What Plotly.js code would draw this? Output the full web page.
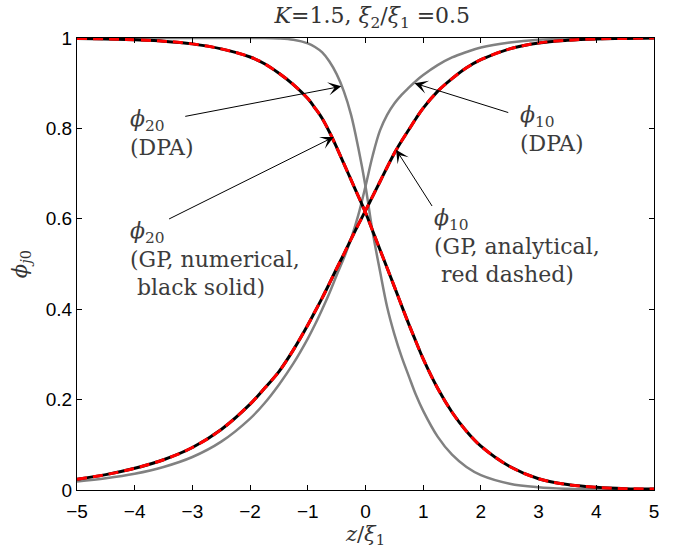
<!DOCTYPE html>
<html>
<head>
<meta charset="utf-8">
<script src="https://cdn.plot.ly/plotly-3.0.1.min.js"></script>
<style>
  html, body { margin: 0; padding: 0; background: #fff; }
  #chart { width: 677px; height: 550px; }
</style>
</head>
<body>
<div id="chart"></div>
<script>
// Position along the interface, in units of xi_1
const z = [-5, -4.5, -4, -3.5, -3, -2.5, -2, -1.75, -1.5, -1.25, -1, -0.875, -0.75, -0.625,
           -0.5, -0.375, -0.25, -0.125, 0, 0.125, 0.25, 0.375, 0.5, 0.625, 0.75, 0.875,
           1, 1.25, 1.5, 1.75, 2, 2.5, 3, 3.5, 4, 4.5, 5];

// Gross-Pitaevskii order parameters (numerical and analytical coincide)
const phi10GP = [0.024, 0.034, 0.048, 0.067, 0.094, 0.134, 0.19, 0.225, 0.262, 0.31, 0.365,
                 0.395, 0.425, 0.457, 0.49, 0.522, 0.555, 0.587, 0.618, 0.65, 0.682, 0.714,
                 0.745, 0.772, 0.797, 0.822, 0.845, 0.882, 0.91, 0.934, 0.952, 0.976, 0.989,
                 0.995, 0.998, 0.999, 1.0];
const phi20GP = [0.999, 0.998, 0.996, 0.993, 0.987, 0.976, 0.958, 0.943, 0.922, 0.897, 0.866,
                 0.845, 0.822, 0.792, 0.758, 0.722, 0.686, 0.65, 0.614, 0.573, 0.532, 0.491,
                 0.45, 0.408, 0.367, 0.328, 0.29, 0.225, 0.172, 0.13, 0.097, 0.052, 0.025,
                 0.012, 0.006, 0.003, 0.002];

// Double-parabola approximation
const phi10DPA = [0.019, 0.026, 0.036, 0.051, 0.073, 0.107, 0.158, 0.192, 0.233, 0.28, 0.335,
                  0.366, 0.4, 0.436, 0.475, 0.513, 0.556, 0.608, 0.672, 0.74, 0.795, 0.83,
                  0.855, 0.874, 0.89, 0.905, 0.918, 0.94, 0.957, 0.969, 0.979, 0.99, 0.996,
                  0.998, 0.999, 1.0, 1.0];
const phi20DPA = [1.0, 1.0, 1.0, 1.0, 1.0, 1.0, 1.0, 1.0, 0.999, 0.996, 0.988,
                  0.98, 0.968, 0.948, 0.92, 0.882, 0.83, 0.757, 0.672, 0.57, 0.485, 0.405,
                  0.345, 0.295, 0.252, 0.21, 0.175, 0.118, 0.078, 0.051, 0.033, 0.014, 0.006,
                  0.0025, 0.001, 0.0005, 0.0002];

const xTicks = [-5, -4, -3, -2, -1, 0, 1, 2, 3, 4, 5];
const yTicks = [0, 0.2, 0.4, 0.6, 0.8, 1];

const grey = '#818181';
const serif = 'DejaVu Serif, serif';
const sans = 'Liberation Sans, Arial, sans-serif';
const textGrey = '#3c3c3c';

function curve(y, color, width, dash) {
  return {
    x: z, y: y, type: 'scatter', mode: 'lines',
    line: { color: color, width: width, dash: dash || 'solid', shape: 'spline', smoothing: 1 },
    hoverinfo: 'skip', showlegend: false
  };
}

const traces = [
  curve(phi10DPA, grey, 2.5),
  curve(phi20DPA, grey, 2.5),
  curve(phi10GP, '#000000', 3),
  curve(phi20GP, '#000000', 3),
  curve(phi10GP, '#ff0000', 3, '10px,6px'),
  curve(phi20GP, '#ff0000', 3, '10px,6px')
];

// label blocks: [x, y (block centre), text]
const labelBlocks = [
  [-4.10, 0.789, '<i>ϕ</i><sub>20</sub><br>(DPA)'],
  [-4.10, 0.510, '<i>ϕ</i><sub>20</sub><br>(GP, numerical,<br>&nbsp;black solid)'],
  [2.66, 0.798, '<i>ϕ</i><sub>10</sub><br>(DPA)'],
  [1.17, 0.540, '<i>ϕ</i><sub>10</sub><br>(GP, analytical,<br>&nbsp;red dashed)']
];

// arrows: [tipX, tipY, tailX, tailY]
const arrows = [
  [-0.42, 0.893, -3.15, 0.826],
  [-0.55, 0.781, -3.43, 0.598],
  [0.85, 0.900, 2.50, 0.834],
  [0.53, 0.753, 1.17, 0.625]
];

const annotations = [];
labelBlocks.forEach(function (l) {
  annotations.push({
    x: l[0], y: l[1], xref: 'x', yref: 'y', text: l[2], showarrow: false,
    xanchor: 'left', yanchor: 'middle', align: 'left', borderpad: 0,
    font: { family: serif, size: 22, color: textGrey }
  });
});
arrows.forEach(function (a) {
  annotations.push({
    x: a[0], y: a[1], ax: a[2], ay: a[3], xref: 'x', yref: 'y', axref: 'x', ayref: 'y',
    text: '', showarrow: true, arrowhead: 3, arrowsize: 2.2, arrowwidth: 1,
    arrowcolor: '#000000', standoff: 0, startstandoff: 0
  });
});

const layout = {
  width: 677, height: 550,
  margin: { l: 77, r: 23, t: 38, b: 60 },
  paper_bgcolor: '#ffffff', plot_bgcolor: '#ffffff',
  title: {
    text: '<i>K</i>=1.5, <i>ξ</i><sub>2</sub>/<i>ξ</i><sub>1</sub> =0.5',
    font: { family: serif, size: 22, color: '#333333' },
    x: 0.55, xanchor: 'center', y: 0.972, yanchor: 'middle'
  },
  xaxis: {
    range: [-5, 5], tickvals: xTicks, ticks: 'inside', ticklen: 5, tickcolor: '#000',
    showline: true, linecolor: '#000', linewidth: 1, mirror: 'ticks',
    showgrid: false, zeroline: false, ticklabelstandoff: 4,
    tickfont: { family: sans, size: 19, color: '#000' },
    title: { text: '<i>z</i>/<i>ξ</i><sub>1</sub>', font: { family: serif, size: 21, color: '#333333' }, standoff: 4 }
  },
  yaxis: {
    range: [0, 1], tickvals: yTicks, ticks: 'inside', ticklen: 5, tickcolor: '#000',
    showline: true, linecolor: '#000', linewidth: 1, mirror: 'ticks',
    showgrid: false, zeroline: false,
    tickfont: { family: sans, size: 19, color: '#000' },
    title: { text: '<i>ϕ</i><sub><i>j</i>0</sub>', font: { family: serif, size: 21, color: '#333333' }, standoff: 12 }
  },
  annotations: annotations
};

Plotly.newPlot('chart', traces, layout, { displayModeBar: false, staticPlot: true });
</script>
</body>
</html>
